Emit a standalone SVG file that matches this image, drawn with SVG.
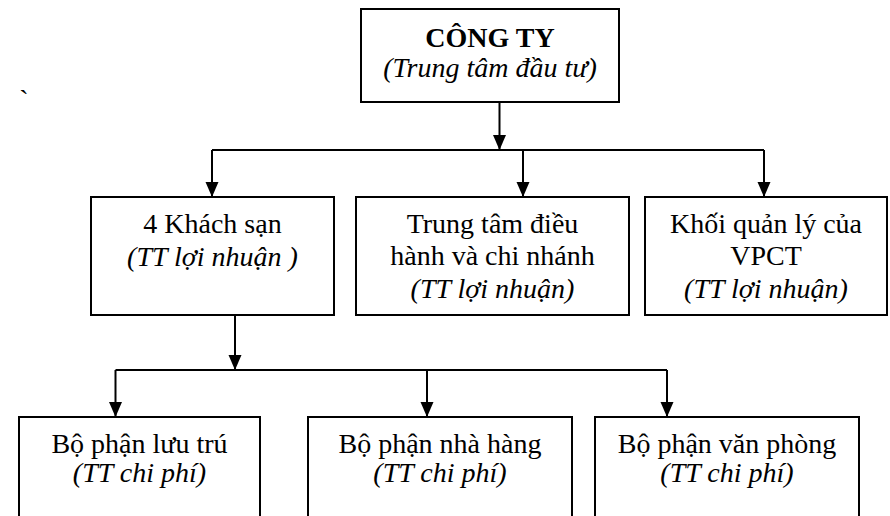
<svg xmlns="http://www.w3.org/2000/svg" width="890" height="516" viewBox="0 0 890 516">
<style>
  .box { fill: #ffffff; stroke: #000000; stroke-width: 2; }
  .t { font-family: "Liberation Serif", "Times New Roman", serif; font-size: 28px; fill: #000000; text-anchor: middle; }
  .b { font-weight: bold; }
  .i { font-style: italic; }
  .conn { fill: none; stroke: #000000; stroke-width: 2; }
</style>
<defs>
  <marker id="arrow" markerUnits="userSpaceOnUse" markerWidth="16" markerHeight="14" refX="15" refY="6.5" orient="auto">
    <path d="M0,0 L15,6.5 L0,13 Z" fill="#000000"/>
  </marker>
</defs>
<rect x="0" y="0" width="890" height="516" fill="#ffffff"/>
<text class="t" x="24" y="109">`</text>

<g id="connectors">
  <line class="conn" x1="499.5" y1="102" x2="499.5" y2="150" marker-end="url(#arrow)"/>
  <line class="conn" x1="212" y1="150" x2="764" y2="150"/>
  <line class="conn" x1="212" y1="150" x2="212" y2="197" marker-end="url(#arrow)"/>
  <line class="conn" x1="523" y1="150" x2="523" y2="197" marker-end="url(#arrow)"/>
  <line class="conn" x1="764" y1="150" x2="764" y2="197" marker-end="url(#arrow)"/>
  <line class="conn" x1="235" y1="315" x2="235" y2="370" marker-end="url(#arrow)"/>
  <line class="conn" x1="115.5" y1="370" x2="667" y2="370"/>
  <line class="conn" x1="115.5" y1="370" x2="115.5" y2="417" marker-end="url(#arrow)"/>
  <line class="conn" x1="427" y1="370" x2="427" y2="417" marker-end="url(#arrow)"/>
  <line class="conn" x1="667" y1="370" x2="667" y2="417" marker-end="url(#arrow)"/>
</g>

<g id="cong-ty">
  <rect class="box" x="361" y="9" width="258" height="93"/>
  <text class="t b" x="490" y="47">CÔNG TY</text>
  <text class="t i" x="490" y="77">(Trung tâm đầu tư)</text>
</g>

<g id="khach-san">
  <rect class="box" x="91" y="197" width="243" height="118"/>
  <text class="t" x="212.5" y="232.5">4 Khách sạn</text>
  <text class="t i" x="212.5" y="265.5">(TT lợi nhuận )</text>
</g>

<g id="trung-tam">
  <rect class="box" x="356" y="197" width="273" height="118"/>
  <text class="t" x="492.5" y="232.5">Trung tâm điều</text>
  <text class="t" x="492.5" y="265">hành và chi nhánh</text>
  <text class="t i" x="492.5" y="297.5">(TT lợi nhuận)</text>
</g>

<g id="khoi-quan-ly">
  <rect class="box" x="645" y="197" width="242" height="118"/>
  <text class="t" x="766" y="232.5">Khối quản lý của</text>
  <text class="t" x="766" y="265">VPCT</text>
  <text class="t i" x="766" y="297.5">(TT lợi nhuận)</text>
</g>

<g id="luu-tru">
  <rect class="box" x="19" y="417" width="241" height="120"/>
  <text class="t" x="139.5" y="453">Bộ phận lưu trú</text>
  <text class="t i" x="139.5" y="481.5">(TT chi phí)</text>
</g>

<g id="nha-hang">
  <rect class="box" x="308" y="417" width="264" height="120"/>
  <text class="t" x="440" y="453">Bộ phận nhà hàng</text>
  <text class="t i" x="440" y="481.5">(TT chi phí)</text>
</g>

<g id="van-phong">
  <rect class="box" x="595" y="417" width="264" height="120"/>
  <text class="t" x="727" y="453">Bộ phận văn phòng</text>
  <text class="t i" x="727" y="481.5">(TT chi phí)</text>
</g>
</svg>
